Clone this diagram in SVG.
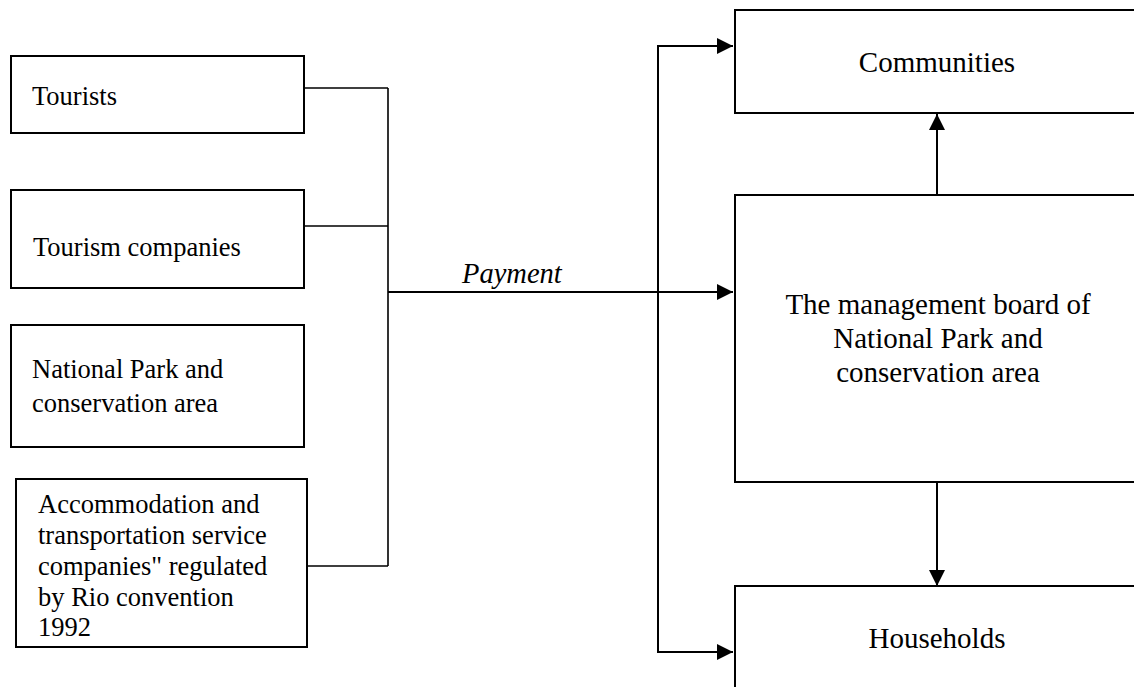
<svg xmlns="http://www.w3.org/2000/svg" width="1134" height="687" viewBox="0 0 1134 687">
<style>
.box{fill:#fff;stroke:#000;stroke-width:2}
text{font-family:'Liberation Serif','Times New Roman',serif;fill:#000}
.l{font-size:26.5px}
.r{font-size:29px;text-anchor:middle}
.c{fill:none;stroke:#000;stroke-width:1.6}
.a{fill:none;stroke:#000;stroke-width:2}
</style>
<defs>
<marker id="ah" markerUnits="userSpaceOnUse" markerWidth="17" markerHeight="17" viewBox="0 0 17 17" refX="16" refY="8.5" orient="auto">
<path d="M0,0.5 L16,8.5 L0,16.5 Z" fill="#000"/>
</marker>
</defs>
<rect width="1134" height="687" fill="#fff"/>
<g id="tourists">
<rect class="box" x="11" y="56" width="293" height="77"/>
<text class="l" x="32" y="105">Tourists</text>
</g>
<g id="tourism-companies">
<rect class="box" x="11" y="190" width="293" height="98"/>
<text class="l" x="33" y="256">Tourism companies</text>
</g>
<g id="national-park">
<rect class="box" x="11" y="325" width="293" height="122"/>
<text class="l" x="32" y="378">National Park and</text>
<text class="l" x="32" y="412">conservation area</text>
</g>
<g id="accommodation">
<rect class="box" x="16" y="479" width="291" height="168"/>
<text class="l" x="38" y="513">Accommodation and</text>
<text class="l" x="38" y="544">transportation service</text>
<text class="l" x="38" y="575">companies" regulated</text>
<text class="l" x="38" y="606">by Rio convention</text>
<text class="l" x="38" y="636">1992</text>
</g>
<g id="communities">
<rect class="box" x="735" y="10" width="410" height="103"/>
<text class="r" x="937" y="72">Communities</text>
</g>
<g id="management-board">
<rect class="box" x="735" y="195" width="410" height="287"/>
<text class="r" x="938" y="314">The management board of</text>
<text class="r" x="938" y="348">National Park and</text>
<text class="r" x="938" y="382">conservation area</text>
</g>
<g id="households">
<rect class="box" x="735" y="586" width="410" height="120"/>
<text class="r" x="937" y="648">Households</text>
</g>
<g id="connectors">
<path class="c" d="M304,88 H388 M304,226 H388 M307,566 H388 M388,88 V566"/>
<path class="a" d="M388,292 H733" marker-end="url(#ah)"/>
<path class="a" d="M658,46 V652"/>
<path class="a" d="M657,46 H733" marker-end="url(#ah)"/>
<path class="a" d="M657,652 H733" marker-end="url(#ah)"/>
<path class="a" d="M937,195 V114" marker-end="url(#ah)"/>
<path class="a" d="M937,482 V586" marker-end="url(#ah)"/>
<text x="462" y="283" font-size="28.5" font-style="italic">Payment</text>
</g>
</svg>
